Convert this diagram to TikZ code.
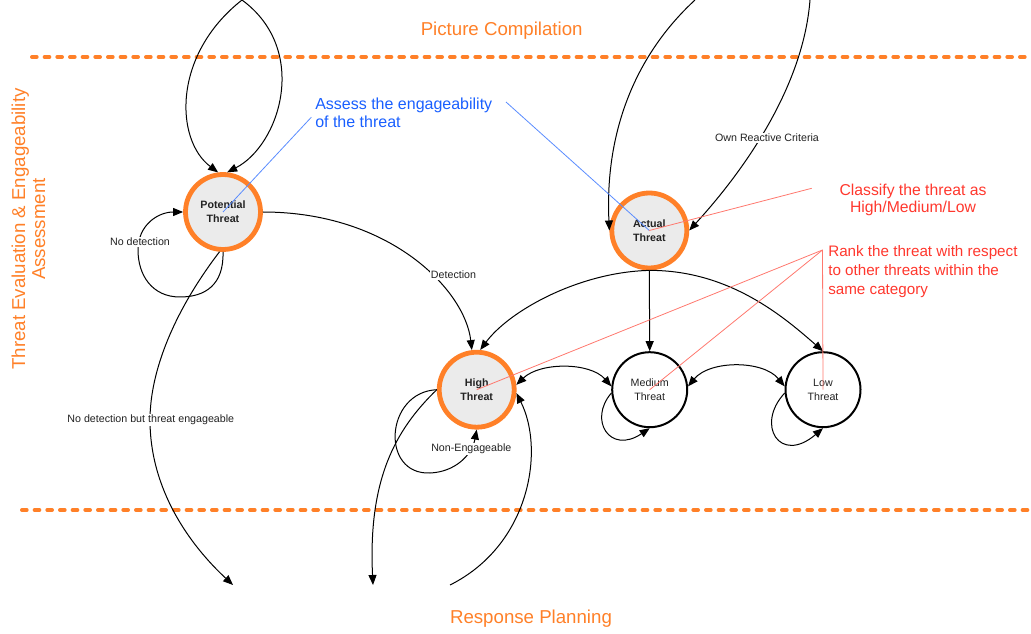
\documentclass[tikz,border=0pt]{standalone}
\usepackage{fontspec}
\setmainfont{Liberation Sans}
\usetikzlibrary{arrows.meta}

\definecolor{phaseorange}{RGB}{255,128,40}
\definecolor{statefill}{RGB}{235,235,235}
\definecolor{inktext}{RGB}{34,34,34}
\definecolor{noteblue}{RGB}{25,95,255}
\definecolor{noteblueline}{RGB}{90,140,255}
\definecolor{notered}{RGB}{255,55,45}
\definecolor{noteredline}{RGB}{255,120,110}

\begin{document}
\begin{tikzpicture}[x=0.75pt, y=-0.75pt,
  >={Triangle[length=7.5pt,width=6pt]},
  state/.style={circle, minimum size=56.25pt, inner sep=0pt, align=center, text=inktext},
  keystate/.style={state, draw=phaseorange, line width=3.6pt, fill=statefill,
    font=\fontsize{8}{10.5}\selectfont\bfseries},
  plainstate/.style={state, draw=black, line width=1.5pt, fill=white,
    font=\fontsize{8}{10.5}\selectfont},
  flow/.style={line width=0.75pt, ->},
  twoway/.style={line width=0.75pt, <->},
  looplabel/.style={fill=white, inner sep=1pt, text=inktext, font=\fontsize{8}{9.6}\selectfont},
  phaseline/.style={phaseorange, line width=3pt, line cap=round, dash pattern=on 3.5pt off 6pt},
  phaselabel/.style={text=phaseorange, font=\fontsize{14}{16.8}\selectfont, inner sep=0pt},
  bluenote/.style={text=noteblue, font=\fontsize{12}{13.5}\selectfont, inner sep=0pt, align=left},
  bluelead/.style={noteblueline, line width=0.6pt},
  rednote/.style={text=notered, inner sep=0pt},
  redlead/.style={noteredline, line width=0.6pt},
]
\useasboundingbox (0,0) rectangle (1031,634);

% phase boundaries
\draw[phaseline] (32,57) -- (1031,57);
\draw[phaseline] (22,510) -- (1031,510);

% phase names
\node[phaselabel, anchor=base] (picomp) at (501.7,36) {Picture Compilation};
\node[phaselabel, anchor=base] (resplan) at (531,623) {Response Planning};
\node[phaselabel, anchor=base, rotate=90] (teaA) at (25,229) {Threat Evaluation \& Engageability};
\node[phaselabel, anchor=base, rotate=90] (teaB) at (45,229) {Assessment};

% states
\node[keystate] (potential) at (223,212) {Potential\\Threat};
\node[keystate] (actual) at (649.3,230.5) {Actual\\Threat};
\node[keystate] (high) at (476.7,389.7) {High\\Threat};
\node[plainstate] (medium) at (649.7,389.7) {Medium\\Threat};
\node[plainstate] (low) at (823,389.7) {Low\\Threat};

% loose ends leading to and from the neighbouring phases
\coordinate (pcTop) at (242,0);
\coordinate (acLeftTop) at (695,0);
\coordinate (acRightTop) at (810,0);
\coordinate (rpLeft) at (233,585);
\coordinate (rpMid) at (373,585);
\coordinate (rpRight) at (450,585);

% transitions
\draw[flow] (pcTop) .. controls (172,55) and (175,140) .. (potential.97);
\draw[flow] (pcTop) .. controls (310,50) and (280,145) .. (potential.84);
\draw[flow] (potential.-90) .. controls (224,285) and (205,297) .. (180,297)
  .. controls (152,297) and (138,275) .. (138,250)
  .. controls (138,225) and (158,212) .. (potential.180);
\draw[flow] (potential.-95) .. controls (175,310) and (150,370) .. (150,420)
  .. controls (150,490) and (190,545) .. (rpLeft);
\draw[flow] (potential.0) .. controls (390,212) and (465,290) .. (high.97);
\draw[flow] (acLeftTop) .. controls (630,60) and (605,140) .. (actual.180);
\draw[flow] (acRightTop) .. controls (803,90) and (740,175) .. (actual.0);
\draw[flow] (actual.-90) .. controls (580,272) and (510,310) .. (high.85);
\draw[flow] (actual.-90) -- (medium.90);
\draw[flow] (actual.-90) .. controls (730,270) and (785,318) .. (low.90);
\draw[twoway] (high.7) .. controls (540,362) and (590,362) .. (medium.175);
\draw[twoway] (medium.5) .. controls (710,360) and (763,360) .. (low.175);
\draw[flow] (high.180) .. controls (385,392) and (380,475) .. (430,473)
  .. controls (455,472) and (472,455) .. (high.-90);
\draw[flow] (high.180) .. controls (395,430) and (368,480) .. (rpMid);
\draw[flow] (rpRight) .. controls (530,545) and (545,450) .. (high.-5);
\draw[flow] (medium.185) .. controls (588,420) and (610,455) .. (medium.-90);
\draw[flow] (low.185) .. controls (755,425) and (780,465) .. (low.-90);

% transition labels
\node[looplabel] (lblNoDet) at (140,242) {No detection};
\node[looplabel] (lblDet) at (453.5,275) {Detection};
\node[looplabel] (lblNoDetEng) at (150.8,420) {No detection but threat engageable};
\node[looplabel] (lblNonEng) at (471.3,449) {Non-Engageable};
\node[looplabel] (lblOwn) at (767,138) {Own Reactive Criteria};

% notes (base anchor sits on the last line)
\node[bluenote, anchor=base west] (assess) at (315,128) {Assess the engageability\\of the threat};
\coordinate (assessTail) at (506,102);
\draw[bluelead, shorten <=4pt] (assess.west) -- (potential.center);
\draw[bluelead] (assessTail) -- (actual.center);

\node[rednote, anchor=base, align=center, font=\fontsize{11.8}{12.75}\selectfont] (classify)
  at (913,212.5) {Classify the threat as\\High/Medium/Low};
\coordinate (classifyTail) at (811.7,188.3);
\draw[redlead] (classifyTail) -- (actual.center);

\node[rednote, anchor=base west, align=left, font=\fontsize{11.4}{14.6}\selectfont] (rank)
  at (828,295) {Rank the threat with respect\\to other threats within the\\same category};
\coordinate (rankTail) at (822.5,250);
\draw[redlead] (rankTail) -- (high.center);
\draw[redlead] (rankTail) -- (medium.center);
\draw[redlead] (rankTail) -- (low.center);
\end{tikzpicture}
\end{document}
